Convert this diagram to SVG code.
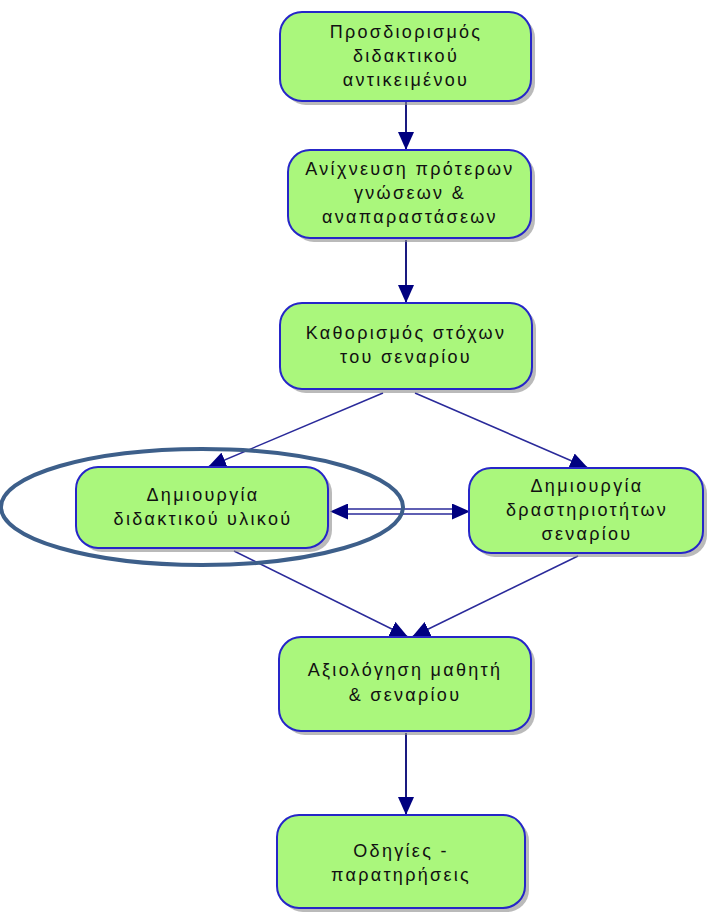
<svg xmlns="http://www.w3.org/2000/svg" width="708" height="914" viewBox="0 0 708 914">
<defs>
<marker id="ah" viewBox="0 0 18 16" refX="18" refY="8" markerWidth="18" markerHeight="16" markerUnits="userSpaceOnUse" orient="auto">
<path d="M0,0 L18,8 L0,16 Z" fill="#000080"/>
</marker>
</defs>
<style>
.shadow{fill:#8c8c8c;opacity:0.6}
.box{fill:#aaf77c;stroke:#2626c8;stroke-width:2}
.t{font-family:"Liberation Sans",Arial,sans-serif;font-size:18px;letter-spacing:2.3px;fill:#111;text-anchor:middle}
.c{stroke:#2a2a9a;stroke-width:1.5;fill:none}
.cv{stroke:#1a1a80;stroke-width:2;fill:none}
</style>
<rect width="708" height="914" fill="#ffffff"/>
<g id="connectors">
<line class="cv" x1="406" y1="102" x2="406" y2="150" marker-end="url(#ah)"/>
<line class="cv" x1="406" y1="240" x2="406" y2="303" marker-end="url(#ah)"/>
<line class="c" x1="383" y1="393" x2="208" y2="467" marker-end="url(#ah)"/>
<line class="c" x1="415" y1="393" x2="588" y2="468" marker-end="url(#ah)"/>
<line class="c" x1="234" y1="551" x2="408" y2="637" marker-end="url(#ah)"/>
<line class="c" x1="578" y1="556" x2="412" y2="637" marker-end="url(#ah)"/>
<line class="cv" x1="406" y1="733" x2="406" y2="815" marker-end="url(#ah)"/>
<line class="c" x1="345" y1="509" x2="455" y2="509"/>
<line class="c" x1="345" y1="514" x2="455" y2="514"/>
<path d="M348,511.5 L330,511.5" fill="none" stroke="none" marker-end="url(#ah)"/>
<path d="M452,511.5 L470,511.5" fill="none" stroke="none" marker-end="url(#ah)"/>
</g>
<g id="n1">
<rect class="shadow" x="284" y="16" width="251" height="89" rx="22"/>
<rect class="box" x="280" y="12" width="251" height="89" rx="22"/>
<text class="t" x="406" y="38">Προσδιορισμός</text>
<text class="t" x="406" y="62">διδακτικού</text>
<text class="t" x="406" y="86">αντικειμένου</text>
</g>
<g id="n2">
<rect class="shadow" x="292" y="154" width="243" height="88" rx="22"/>
<rect class="box" x="288" y="150" width="243" height="88" rx="22"/>
<text class="t" x="410" y="175">Ανίχνευση πρότερων</text>
<text class="t" x="410" y="199">γνώσεων &amp;</text>
<text class="t" x="410" y="223">αναπαραστάσεων</text>
</g>
<g id="n3">
<rect class="shadow" x="284" y="307" width="252" height="86" rx="22"/>
<rect class="box" x="280" y="303" width="252" height="86" rx="22"/>
<text class="t" x="406" y="339">Καθορισμός στόχων</text>
<text class="t" x="406" y="363">του σεναρίου</text>
</g>
<g id="n4">
<rect class="shadow" x="80" y="471" width="252" height="81" rx="22"/>
<rect class="box" x="76" y="467" width="252" height="81" rx="22"/>
<text class="t" x="203" y="501">Δημιουργία</text>
<text class="t" x="203" y="525">διδακτικού υλικού</text>
</g>
<g id="n5">
<rect class="shadow" x="473" y="472" width="234" height="85" rx="22"/>
<rect class="box" x="469" y="468" width="234" height="85" rx="22"/>
<text class="t" x="587" y="492">Δημιουργία</text>
<text class="t" x="587" y="516">δραστηριοτήτων</text>
<text class="t" x="587" y="540">σεναρίου</text>
</g>
<g id="n6">
<rect class="shadow" x="283" y="641" width="252" height="94" rx="22"/>
<rect class="box" x="279" y="637" width="252" height="94" rx="22"/>
<text class="t" x="405" y="676">Αξιολόγηση μαθητή</text>
<text class="t" x="405" y="701">&amp; σεναρίου</text>
</g>
<g id="n7">
<rect class="shadow" x="281" y="819" width="248" height="93" rx="22"/>
<rect class="box" x="277" y="815" width="248" height="93" rx="22"/>
<text class="t" x="401" y="857">Οδηγίες -</text>
<text class="t" x="401" y="881">παρατηρήσεις</text>
</g>
<ellipse cx="202" cy="507" rx="201" ry="58" fill="none" stroke="#3d5f8a" stroke-width="4"/>
</svg>
